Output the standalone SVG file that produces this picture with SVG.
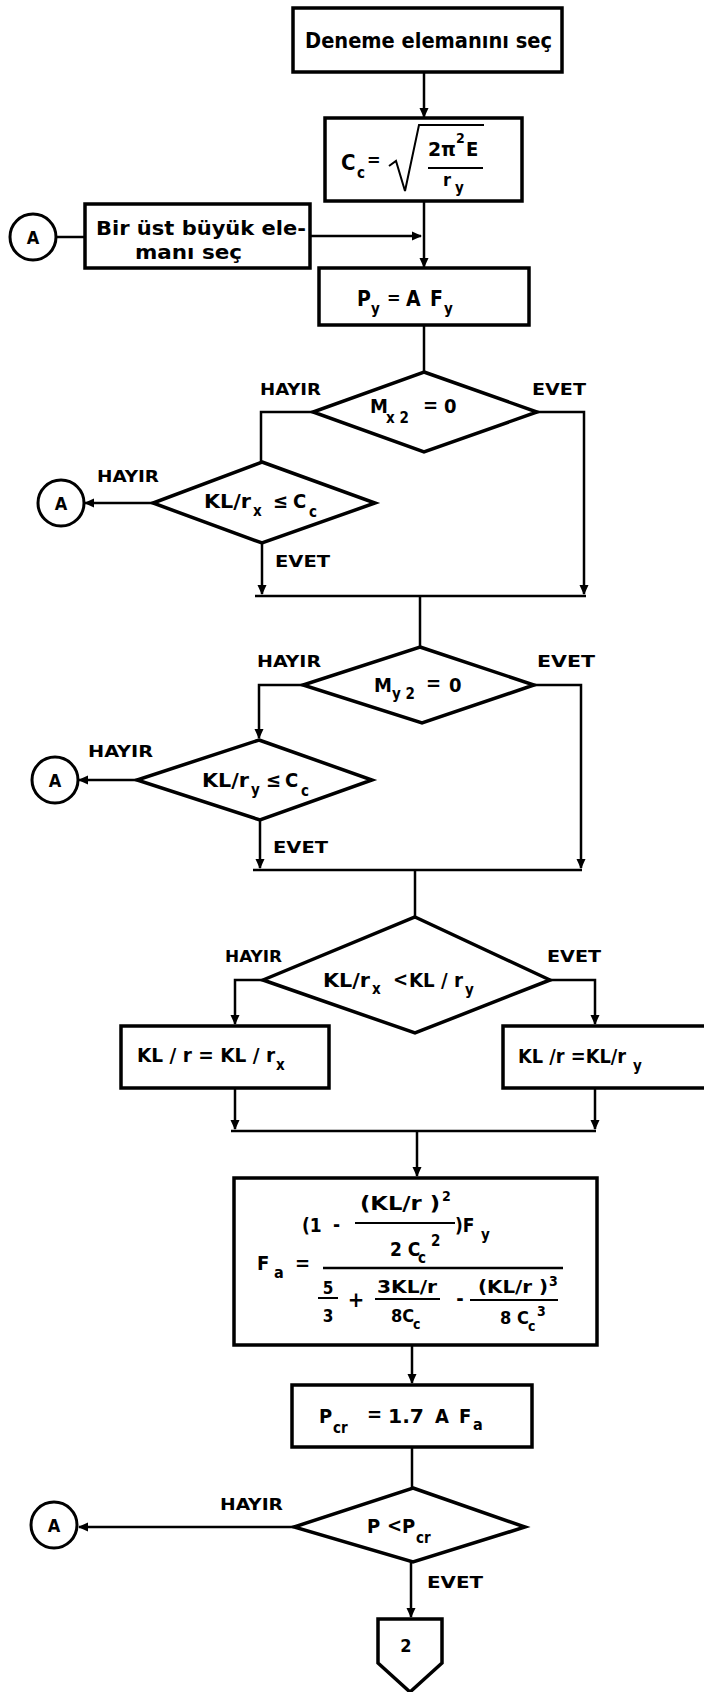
<svg xmlns="http://www.w3.org/2000/svg" width="704" height="1692" viewBox="0 0 704 1692">
<style>
.sh{fill:none;stroke:#000;stroke-width:3.5;stroke-linejoin:miter}
.ln{fill:none;stroke:#000;stroke-width:2.5}
.fl{fill:none;stroke:#000;stroke-width:2}
text{font-family:"DejaVu Sans Condensed","DejaVu Sans",sans-serif;font-weight:bold;fill:#000}
.t{font-size:20px}
.lb{font-size:16px}
.s{font-size:15px}
.ca{font-size:18px;text-anchor:middle}
</style>
<defs>
<marker id="ah" viewBox="0 0 10 10" refX="9" refY="5" markerWidth="10" markerHeight="10" markerUnits="userSpaceOnUse" orient="auto"><path d="M0,0.5 L10,5 L0,9.5 z"/></marker>
</defs>
<rect width="704" height="1692" fill="#fff"/>

<g id="connectors">
<path class="ln" d="M424,72 V117" marker-end="url(#ah)"/>
<path class="ln" d="M56,237 H85"/>
<path class="ln" d="M310,236 H421" marker-end="url(#ah)"/>
<path class="ln" d="M424,201 V267" marker-end="url(#ah)"/>
<path class="ln" d="M424,325 V372"/>
<path class="ln" d="M313,412 H261 V462"/>
<path class="ln" d="M537,412 H584 V594" marker-end="url(#ah)"/>
<path class="ln" d="M153,503 H85" marker-end="url(#ah)"/>
<path class="ln" d="M262,543 V594" marker-end="url(#ah)"/>
<path class="ln" d="M255,596 H586"/>
<path class="ln" d="M420,596 V647"/>
<path class="ln" d="M303,685 H259 V738" marker-end="url(#ah)"/>
<path class="ln" d="M534,685 H581 V868" marker-end="url(#ah)"/>
<path class="ln" d="M137,780 H79" marker-end="url(#ah)"/>
<path class="ln" d="M260,820 V868" marker-end="url(#ah)"/>
<path class="ln" d="M253,870 H582"/>
<path class="ln" d="M415,870 V917"/>
<path class="ln" d="M263,980 H235 V1024" marker-end="url(#ah)"/>
<path class="ln" d="M550,980 H595 V1024" marker-end="url(#ah)"/>
<path class="ln" d="M235,1088 V1129" marker-end="url(#ah)"/>
<path class="ln" d="M595,1088 V1129" marker-end="url(#ah)"/>
<path class="ln" d="M231,1131 H596"/>
<path class="ln" d="M417,1131 V1176" marker-end="url(#ah)"/>
<path class="ln" d="M412,1345 V1383" marker-end="url(#ah)"/>
<path class="ln" d="M412,1447 V1488"/>
<path class="ln" d="M294,1527 H79" marker-end="url(#ah)"/>
<path class="ln" d="M411,1562 V1617" marker-end="url(#ah)"/>
</g>

<g id="n-deneme">
<rect class="sh" x="293" y="8" width="269" height="64"/>
<text class="t" x="305" y="48" textLength="247" lengthAdjust="spacingAndGlyphs" style="font-size:21px">Deneme elemanını seç</text>
</g>

<g id="n-cc">
<rect class="sh" x="325" y="118" width="197" height="83"/>
<text x="341" y="170" style="font-size:22px">C</text>
<text x="357" y="178" class="s">c</text>
<text x="367" y="166" style="font-size:18px">=</text>
<path class="fl" d="M389,166 L396,161 L405,191 L419,125 H484"/>
<text x="428" y="156" class="t" textLength="28" lengthAdjust="spacingAndGlyphs">2π</text>
<text x="456" y="143" style="font-size:14px">2</text>
<text x="466" y="156" class="t">E</text>
<path class="fl" d="M428,168 H483"/>
<text x="443" y="186" style="font-size:18px">r</text>
<text x="455" y="193" class="s">y</text>
</g>

<g id="n-birust">
<rect class="sh" x="85" y="204" width="225" height="64"/>
<text class="t" x="96" y="235" textLength="210" lengthAdjust="spacingAndGlyphs">Bir üst büyük ele-</text>
<text class="t" x="135" y="259" textLength="107" lengthAdjust="spacingAndGlyphs">manı seç</text>
</g>

<g id="n-a1">
<circle class="sh" cx="33" cy="237" r="23" style="stroke-width:3"/>
<text class="ca" x="33" y="244">A</text>
</g>

<g id="n-py">
<rect class="sh" x="319" y="268" width="210" height="57"/>
<text x="357" y="306" style="font-size:21px">P</text>
<text x="371" y="314" class="s">y</text>
<text x="387" y="304" style="font-size:18px">=</text>
<text x="406" y="306" style="font-size:21px">A</text>
<text x="430" y="306" style="font-size:21px">F</text>
<text x="444" y="314" class="s">y</text>
</g>

<g id="d-mx2">
<polygon class="sh" points="424,372 537,412 424,452 313,412"/>
<text x="370" y="413" class="t">M</text>
<text x="386" y="423" class="s">x 2</text>
<text x="423" y="412" class="t">=</text>
<text x="444" y="413" class="t">0</text>
<text class="lb" x="260" y="395" textLength="61" lengthAdjust="spacingAndGlyphs">HAYIR</text>
<text class="lb" x="532" y="395" textLength="54" lengthAdjust="spacingAndGlyphs">EVET</text>
</g>

<g id="d-klrx">
<polygon class="sh" points="262,462 375,503 262,543 153,503"/>
<text x="204" y="508" class="t" textLength="47" lengthAdjust="spacingAndGlyphs">KL/r</text>
<text x="253" y="516" class="s">x</text>
<text x="273" y="508" class="t">≤</text>
<text x="293" y="508" class="t">C</text>
<text x="309" y="517" class="s">c</text>
<text class="lb" x="97" y="482" textLength="62" lengthAdjust="spacingAndGlyphs">HAYIR</text>
<text class="lb" x="275" y="567" textLength="55" lengthAdjust="spacingAndGlyphs">EVET</text>
</g>

<g id="n-a2">
<circle class="sh" cx="61" cy="503" r="23" style="stroke-width:3"/>
<text class="ca" x="61" y="510">A</text>
</g>

<g id="d-my2">
<polygon class="sh" points="420,647 534,685 422,723 303,685"/>
<text x="374" y="692" class="t">M</text>
<text x="392" y="699" class="s">y 2</text>
<text x="426" y="690" class="t">=</text>
<text x="449" y="692" class="t">0</text>
<text class="lb" x="257" y="667" textLength="64" lengthAdjust="spacingAndGlyphs">HAYIR</text>
<text class="lb" x="537" y="667" textLength="58" lengthAdjust="spacingAndGlyphs">EVET</text>
</g>

<g id="d-klry">
<polygon class="sh" points="259,740 372,780 260,820 137,780"/>
<text x="202" y="787" class="t" textLength="47" lengthAdjust="spacingAndGlyphs">KL/r</text>
<text x="251" y="795" class="s">y</text>
<text x="266" y="787" class="t">≤</text>
<text x="285" y="787" class="t">C</text>
<text x="301" y="796" class="s">c</text>
<text class="lb" x="88" y="757" textLength="65" lengthAdjust="spacingAndGlyphs">HAYIR</text>
<text class="lb" x="273" y="853" textLength="55" lengthAdjust="spacingAndGlyphs">EVET</text>
</g>

<g id="n-a3">
<circle class="sh" cx="55" cy="780" r="23" style="stroke-width:3"/>
<text class="ca" x="55" y="787">A</text>
</g>

<g id="d-compare">
<polygon class="sh" points="415,917 550,980 415,1033 263,980"/>
<text x="323" y="987" class="t" textLength="47" lengthAdjust="spacingAndGlyphs">KL/r</text>
<text x="372" y="994" class="s">x</text>
<text x="393" y="986" class="t">&lt;</text>
<text x="409" y="987" class="t" textLength="54" lengthAdjust="spacingAndGlyphs">KL / r</text>
<text x="465" y="995" class="s">y</text>
<text class="lb" x="225" y="962" textLength="57" lengthAdjust="spacingAndGlyphs" style="font-size:15px">HAYIR</text>
<text class="lb" x="547" y="962" textLength="54" lengthAdjust="spacingAndGlyphs" style="font-size:15px">EVET</text>
</g>

<g id="n-klrx">
<rect class="sh" x="121" y="1026" width="208" height="62"/>
<text x="137" y="1062" class="t" textLength="138" lengthAdjust="spacingAndGlyphs">KL / r = KL / r</text>
<text x="276" y="1070" class="s">x</text>
</g>

<g id="n-klry">
<rect class="sh" x="503" y="1026" width="215" height="62"/>
<text x="518" y="1063" class="t" textLength="108" lengthAdjust="spacingAndGlyphs">KL /r =KL/r</text>
<text x="633" y="1071" class="s">y</text>
</g>

<g id="n-fa">
<rect class="sh" x="234" y="1178" width="363" height="167"/>
<text x="360" y="1210" style="font-size:19px" textLength="80" lengthAdjust="spacingAndGlyphs">(KL/r )</text>
<text x="442" y="1201" style="font-size:14px">2</text>
<path class="fl" d="M355,1223 H455"/>
<text x="302" y="1232" style="font-size:19px">(1</text>
<text x="333" y="1231" style="font-size:19px">-</text>
<text x="455" y="1232" style="font-size:19px">)F</text>
<text x="481" y="1240" class="s">y</text>
<text x="390" y="1256" style="font-size:19px">2 C</text>
<text x="418" y="1263" class="s">c</text>
<text x="431" y="1246" class="s">2</text>
<text x="257" y="1270" class="t">F</text>
<text x="274" y="1278" style="font-size:16px">a</text>
<text x="295" y="1270" class="t">=</text>
<path class="ln" d="M323,1268 H563"/>
<text x="328" y="1294" style="font-size:17px;text-anchor:middle">5</text>
<path class="fl" d="M318,1298 H338"/>
<text x="328" y="1322" style="font-size:17px;text-anchor:middle">3</text>
<text x="356" y="1307" style="font-size:22px;text-anchor:middle">+</text>
<text x="377" y="1293" style="font-size:18px" textLength="60" lengthAdjust="spacingAndGlyphs">3KL/r</text>
<path class="fl" d="M375,1299 H440"/>
<text x="391" y="1322" style="font-size:18px">8C</text>
<text x="413" y="1329" style="font-size:14px">c</text>
<text x="460" y="1305" style="font-size:20px;text-anchor:middle">-</text>
<text x="478" y="1293" style="font-size:18px" textLength="70" lengthAdjust="spacingAndGlyphs">(KL/r )</text>
<text x="549" y="1286" style="font-size:14px">3</text>
<path class="fl" d="M470,1300 H558"/>
<text x="500" y="1324" style="font-size:18px">8 C</text>
<text x="528" y="1331" style="font-size:14px">c</text>
<text x="537" y="1316" style="font-size:14px">3</text>
</g>

<g id="n-pcr">
<rect class="sh" x="292" y="1385" width="240" height="62"/>
<text x="319" y="1423" class="t">P</text>
<text x="333" y="1433" class="s">cr</text>
<text x="367" y="1421" class="t">=</text>
<text x="388" y="1423" class="t" textLength="36" lengthAdjust="spacingAndGlyphs">1.7</text>
<text x="435" y="1423" class="t">A</text>
<text x="459" y="1423" class="t">F</text>
<text x="473" y="1430" style="font-size:16px">a</text>
</g>

<g id="d-pcr">
<polygon class="sh" points="413,1488 525,1527 413,1562 294,1527"/>
<text x="367" y="1533" class="t">P</text>
<text x="387" y="1532" class="t">&lt;</text>
<text x="402" y="1533" class="t">P</text>
<text x="416" y="1543" class="s">cr</text>
<text class="lb" x="220" y="1510" textLength="63" lengthAdjust="spacingAndGlyphs">HAYIR</text>
<text class="lb" x="427" y="1588" textLength="56" lengthAdjust="spacingAndGlyphs">EVET</text>
</g>

<g id="n-a4">
<circle class="sh" cx="54" cy="1525" r="23" style="stroke-width:3"/>
<text class="ca" x="54" y="1532">A</text>
</g>

<g id="n-2">
<polygon class="sh" points="378,1619 442,1619 442,1663 410,1692 378,1663"/>
<text x="406" y="1652" style="font-size:18px;text-anchor:middle">2</text>
</g>
</svg>
